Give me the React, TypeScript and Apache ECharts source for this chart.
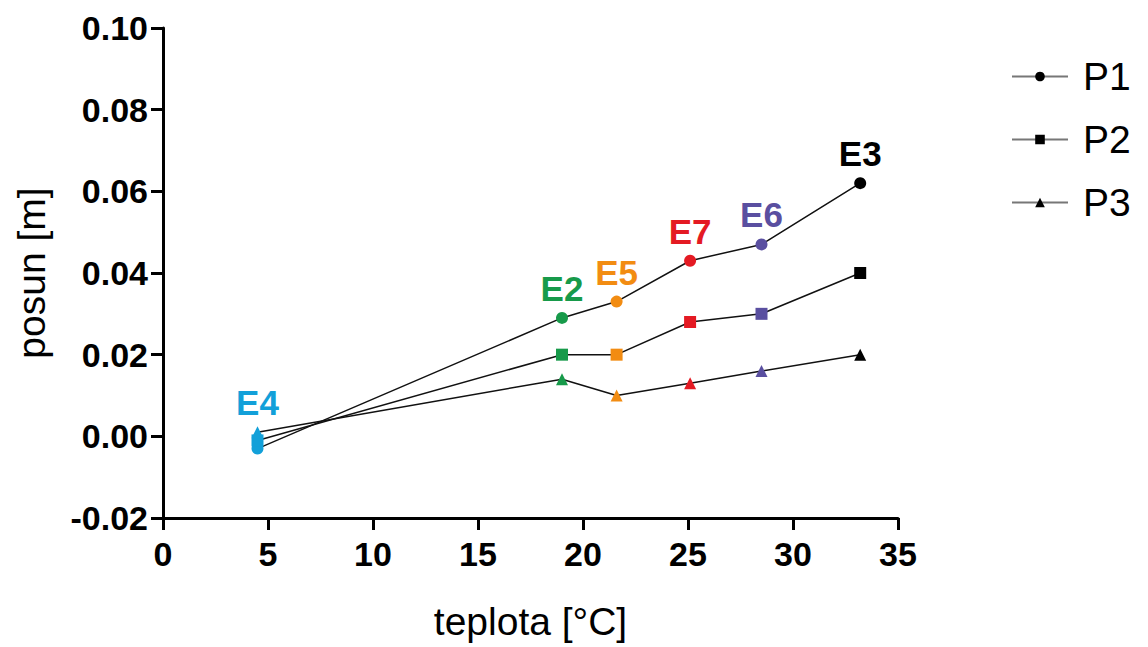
import React, { useEffect, useRef } from "react";
import * as echarts from "echarts";

const events = ["E4", "E2", "E5", "E7", "E6", "E3"];
const temperatures = [4.5, 19.0, 21.6, 25.1, 28.5, 33.2];
const p1 = [-0.003, 0.029, 0.033, 0.043, 0.047, 0.062];
const p2 = [-0.001, 0.02, 0.02, 0.028, 0.03, 0.04];
const p3 = [0.001, 0.014, 0.01, 0.013, 0.016, 0.02];
const eventColors = ["#12a0d9", "#179a4a", "#f28c12", "#e41a23", "#5a4fa0", "#000000"];
const yTicks = [-0.02, 0, 0.02, 0.04, 0.06, 0.08, 0.1];
const xTicks = [0, 5, 10, 15, 20, 25, 30, 35];

const FONT = "Liberation Sans, Arial, Helvetica, sans-serif";

export default function App() {
  const ref = useRef<HTMLDivElement>(null);
  useEffect(() => {
    if (!ref.current) return;
    const chart = echarts.init(ref.current, undefined, { renderer: "svg" });

    const mk = (vals: number[], labelOn: (i: number) => boolean) =>
      vals.map((v, i) => ({
        value: [temperatures[i], v],
        itemStyle: { color: eventColors[i] },
        label: {
          show: labelOn(i),
          position: "top",
          distance: 6,
          formatter: events[i],
          color: eventColors[i],
          fontSize: 35,
          fontWeight: "bold",
          fontFamily: FONT,
        },
      }));

    // label goes above the highest marker at each temperature
    const topIdx = temperatures.map((_, i) => {
      const arr = [p1[i], p2[i], p3[i]];
      return arr.indexOf(Math.max(...arr));
    });

    const base = {
      type: "line",
      lineStyle: { color: "#111", width: 1.5 },
      itemStyle: { color: "#000" },
      symbolSize: 12,
      z: 3,
    };

    chart.setOption({
      animation: false,
      grid: { left: 163, right: 250, top: 28, bottom: 129, containLabel: false },
      legend: {
        orient: "vertical",
        left: 1006,
        top: 52,
        itemWidth: 56,
        itemHeight: 12,
        itemGap: 24,
        data: ["P1", "P2", "P3"],
        lineStyle: { color: "#777", width: 2 },
        itemStyle: { color: "#000" },
        textStyle: { fontSize: 39, fontFamily: FONT, color: "#000", padding: [0, 0, 0, 10] },
      },
      xAxis: {
        type: "value",
        min: 0,
        max: 35,
        interval: 5,
        name: "teplota [°C]",
        nameLocation: "middle",
        nameGap: 84,
        nameTextStyle: { fontSize: 39, fontFamily: FONT, color: "#000" },
        axisLine: { show: true, onZero: false, lineStyle: { color: "#000", width: 3 } },
        axisTick: { show: true, length: 12, lineStyle: { color: "#000", width: 3 } },
        axisLabel: {
          fontSize: 34,
          fontWeight: "bold",
          fontFamily: FONT,
          color: "#000",
          margin: 19,
          formatter: (v: number) => (xTicks.includes(v) ? String(v) : ""),
        },
        splitLine: { show: false },
      },
      yAxis: {
        type: "value",
        min: -0.02,
        max: 0.1,
        interval: 0.02,
        name: "posun [m]",
        nameLocation: "middle",
        nameGap: 112,
        nameTextStyle: { fontSize: 39, fontFamily: FONT, color: "#000" },
        axisLine: { show: true, onZero: false, lineStyle: { color: "#000", width: 3 } },
        axisTick: { show: true, length: 12, lineStyle: { color: "#000", width: 3 } },
        axisLabel: {
          fontSize: 34,
          fontWeight: "bold",
          fontFamily: FONT,
          color: "#000",
          margin: 15,
          formatter: (v: number) => {
            const t = yTicks.find((y) => Math.abs(y - v) < 1e-9);
            return t === undefined ? "" : t.toFixed(2);
          },
        },
        splitLine: { show: false },
      },
      series: [
        { ...base, name: "P1", symbol: "circle", data: mk(p1, (i) => topIdx[i] === 0) },
        { ...base, name: "P2", symbol: "rect", data: mk(p2, (i) => topIdx[i] === 1) },
        { ...base, name: "P3", symbol: "triangle", data: mk(p3, (i) => topIdx[i] === 2) },
      ],
    });
    return () => chart.dispose();
  }, []);
  return (
    <div
      ref={ref}
      style={{ position: "fixed", left: 0, top: 0, width: 1148, height: 647, background: "#fff" }}
    />
  );
}
